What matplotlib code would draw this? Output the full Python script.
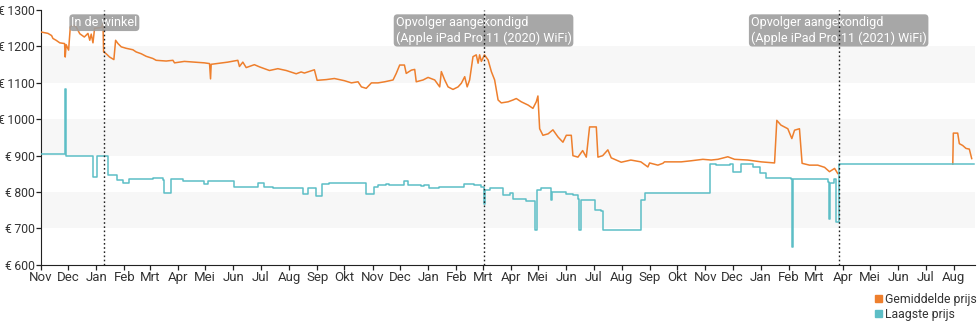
import numpy as np
import matplotlib.pyplot as plt
import matplotlib.dates as mdates
from matplotlib.patches import Patch
from matplotlib.transforms import blended_transform_factory

plt.rcParams['font.family'] = ['Roboto', 'DejaVu Sans']

# Gegevens: dagen sinds 1 november 2018 en prijs in euro
start = np.datetime64('2018-11-01')

avg_days = [0, 8, 12, 13.5, 17, 21, 26.3, 27, 28, 30.7, 32.6, 35.5, 39, 43, 48, 52, 54, 55.6,
            57.5, 59.3, 66.6, 68.5, 69.2, 72, 75.8, 80.5, 82.4, 85, 88.6, 94, 101.4, 105,
            110.6, 116, 123.4, 127, 138, 145.4, 147.2, 158, 169.2, 180, 185.7, 186.8, 187.5,
            205.8, 216.8, 218.6, 222.3, 226, 235, 240.6, 251.6, 260.8, 270, 281, 286.4, 290,
            301, 304, 314, 323, 334, 341.7, 349, 352.7, 358, 363.7, 371, 378.3, 387.5, 391,
            394.8, 400, 402, 407.6, 411.3, 413, 420.5, 426, 433.3, 438.8, 440.6, 444.3, 448,
            453.4, 459, 462.6, 466.3, 469, 471.7, 475.4, 479, 481, 482.7, 484.6, 488, 492,
            495.6, 499.2, 503, 506.5, 514, 519.4, 523, 528.5, 536, 541.3, 545, 546.8, 548.7,
            552.3, 558, 563.3, 569, 574.3, 578, 583.5, 585.3, 590.8, 596, 600, 603.6, 611,
            612.8, 618, 623.7, 627.4, 633, 638.4, 649, 660, 667.7, 669.6, 678.7, 684.2, 686,
            704.4, 715.3, 728.2, 737.3, 744.7, 755.6, 763, 777.6, 792.3, 807, 809.5, 814,
            821.6, 826, 829, 834.4, 837.3, 845.4, 854.5, 862, 867.4, 873, 876.5, 877,
            1003, 1003.6, 1008.4, 1010.2, 1013.9, 1017.5, 1021.2, 1023.8]
avg_price = [1240, 1236, 1230, 1222, 1217, 1210, 1208, 1171, 1205, 1190, 1254, 1259, 1254, 1235,
             1226, 1236, 1217, 1234, 1210, 1250, 1252, 1263, 1185, 1180, 1171, 1164, 1217, 1208,
             1199, 1195, 1191, 1185, 1180, 1173, 1167, 1162, 1160, 1162, 1155, 1159, 1157, 1155,
             1153, 1111, 1151, 1157, 1162, 1145, 1157, 1142, 1150, 1144, 1134, 1139, 1134, 1125,
             1130, 1127, 1136, 1107, 1109, 1112, 1106, 1100, 1103, 1089, 1085, 1100, 1100, 1103,
             1108, 1126, 1149, 1149, 1126, 1135, 1137, 1103, 1108, 1115, 1108, 1089, 1131, 1108,
             1089, 1082, 1089, 1099, 1117, 1089, 1108, 1172, 1177, 1154, 1177, 1159, 1177, 1163,
             1131, 1108, 1053, 1045, 1048, 1053, 1057, 1048, 1039, 1030, 1048, 1064, 974, 956,
             960, 971, 951, 937, 956, 956, 900, 896, 914, 896, 979, 979, 896, 900, 916, 894, 888,
             882, 888, 883, 869, 880, 874, 879, 883, 883, 886, 890, 888, 890, 897, 890, 888, 883,
             880, 997, 984, 974, 947, 970, 974, 879, 874, 874, 868, 856, 865, 851, np.nan,
             877, 962, 962, 933, 928, 920, 918, 892]

low_days = [0, 27, 28, 57.5, 61.5, 74, 84, 90, 96.7, 123, 134, 136, 142.8, 156, 180, 183.8, 213,
            238.8, 246, 255, 288, 293.7, 303, 309, 317.5, 357.8, 366, 370.6, 380, 383.5, 400,
            403.6, 418, 422, 427.4, 438.4, 466, 477, 484.2, 488, 489, 493.8, 508.4, 515.8,
            519.4, 534, 543.2, 546.2, 550.6, 561, 562, 578, 585.4, 590.8, 592, 594.5, 609.2,
            616.5, 618.3, 660.4, 664.1, 735.5, 742.9, 757.5, 761.2, 770.3, 783.2, 790.5, 797.8,
            825.3, 826.4, 827.2, 865.6, 867.4, 868.2, 872.9, 874.7, 877.7, 1026.8]
low_price = [904, 1084, 898, 842, 898, 848, 833, 825, 837, 840, 833, 798, 835, 830, 822, 830, 814,
             825, 814, 811, 796, 810, 789, 823, 826, 796, 814, 819, 822, 819, 830, 819, 816, 819,
             810, 814, 822, 819, 814, 768, 807, 810, 792, 798, 780, 776, 697, 807, 810, 778, 801,
             796, 792, 782, 697, 778, 750, 749, 697, 778, 798, 878, 874, 878, 856, 878, 869, 853,
             840, 837, 648, 837, 828, 725, 825, 837, 718, 876, 876]

event_days = [70, 487, 877.5]
event_labels = ['In de winkel',
                'Opvolger aangekondigd\n(Apple iPad Pro 11 (2020) WiFi)',
                'Opvolger aangekondigd\n(Apple iPad Pro 11 (2021) WiFi)']

month_names = ['Jan', 'Feb', 'Mrt', 'Apr', 'Mei', 'Jun', 'Jul', 'Aug', 'Sep', 'Okt', 'Nov', 'Dec']


def to_dates(days):
    return start + (np.array(days) * 24 * 3600).astype('timedelta64[s]')


orange = '#ee7f2d'
teal = '#5dbec6'

fig = plt.figure(figsize=(9.8, 3.25), dpi=100)
ax = fig.add_axes([0.0415, 0.185, 0.953, 0.784])

for lo in (700, 900, 1100):
    ax.axhspan(lo, lo + 100, color='#f7f7f7', zorder=0, lw=0)

ax.plot(to_dates(avg_days), avg_price, color=orange, lw=1.1, zorder=3)
ax.plot(to_dates(low_days), low_price, color=teal, lw=1.1, drawstyle='steps-post', zorder=3)

trans = blended_transform_factory(ax.transData, ax.transAxes)
for d, lab in zip(to_dates(event_days), event_labels):
    ax.axvline(d, color='#222222', ls=(0, (1.2, 1.8)), lw=1.0, zorder=6)
    ax.text(d, 0.976, lab, transform=trans, ha='center', va='top', fontsize=9,
            color='white', multialignment='left', zorder=5,
            bbox=dict(boxstyle='round,pad=0.15,rounding_size=0.3', fc='#9e9e9e',
                      ec='none', alpha=0.9))

ax.set_ylim(600, 1300)
ax.set_yticks(range(600, 1301, 100))
ax.set_yticklabels(['€\u2009%d' % v for v in range(600, 1301, 100)])
ax.set_xlim(to_dates([0])[0], to_dates([1027])[0])
ax.xaxis.set_major_locator(mdates.MonthLocator())
ax.xaxis.set_major_formatter(plt.FuncFormatter(
    lambda v, pos: month_names[mdates.num2date(v).month - 1]))

for s in ('top', 'right'):
    ax.spines[s].set_visible(False)
for s in ('left', 'bottom'):
    ax.spines[s].set_color('#222222')
ax.tick_params(length=3.5, width=0.9, color='#222222', labelcolor='#333333', pad=1)
ax.tick_params(axis='x', labelsize=9.5)
ax.tick_params(axis='y', labelsize=8.8, pad=0.5)

handles = [Patch(color=orange), Patch(color=teal)]
fig.legend(handles, ['Gemiddelde prijs', 'Laagste prijs'], loc='upper right',
           bbox_to_anchor=(1.003, 0.118), frameon=False, fontsize=8.8,
           handlelength=0.55, handleheight=0.55, handletextpad=0.25,
           labelspacing=0.15, borderpad=0, labelcolor='#333333')

fig.savefig('out.png', dpi=100)
